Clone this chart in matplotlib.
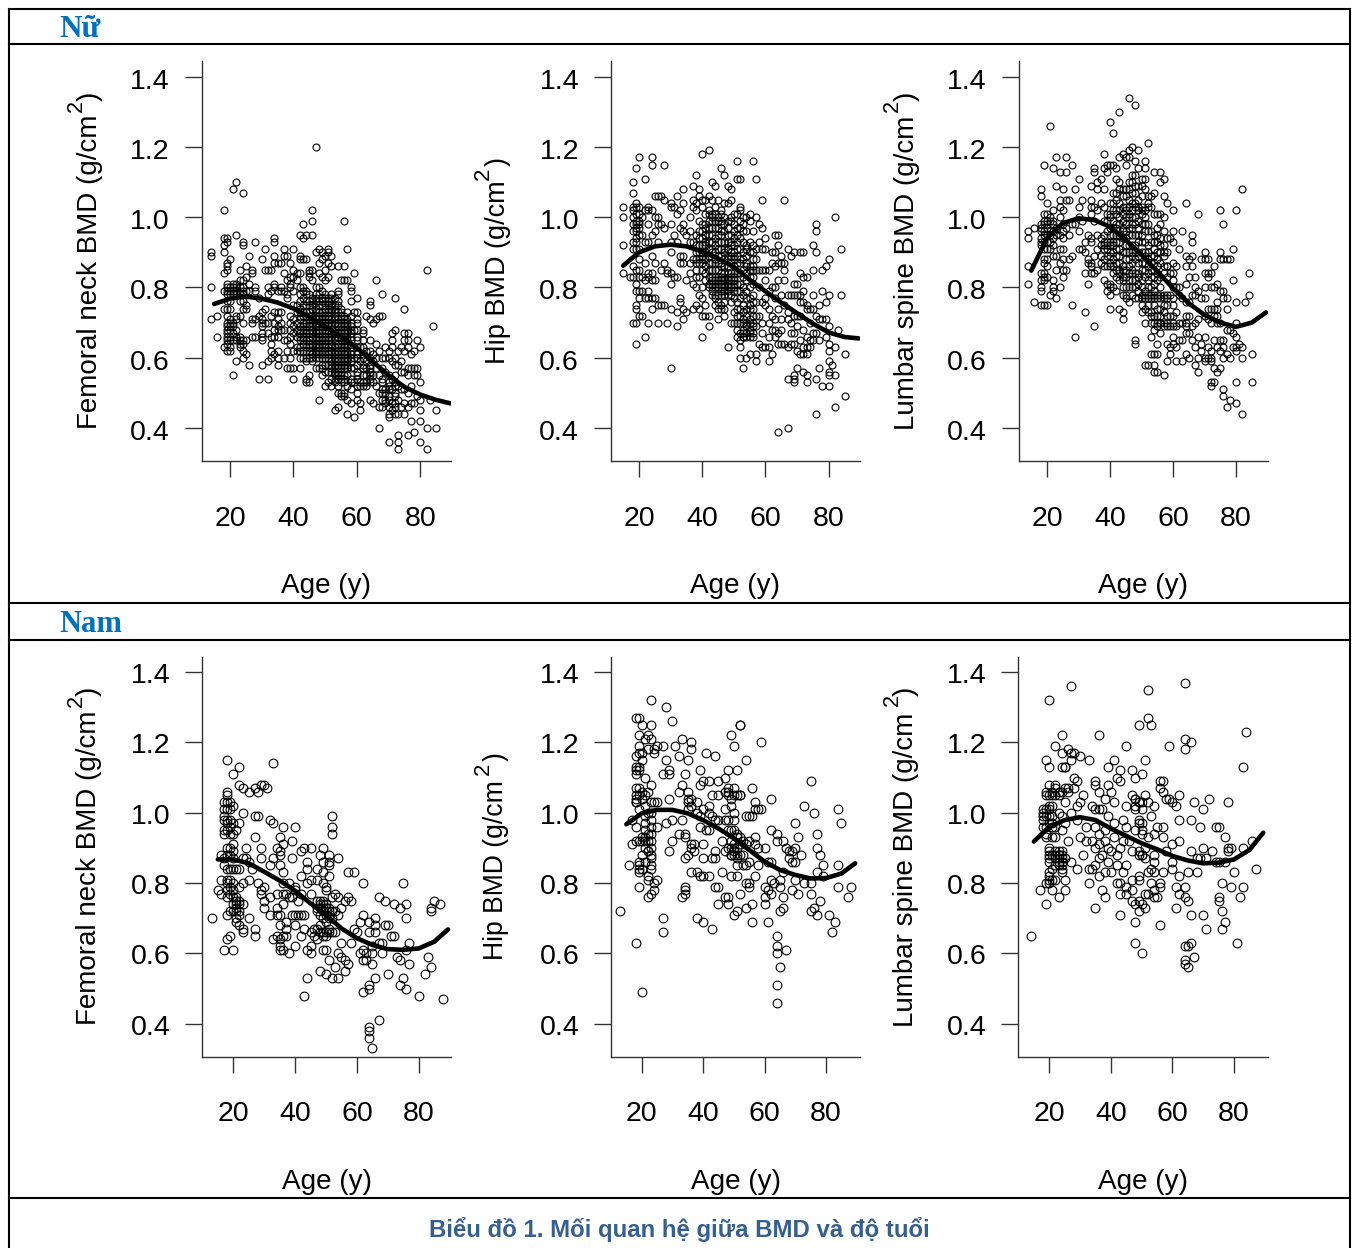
import numpy as np
import matplotlib
matplotlib.use('Agg')
import matplotlib.pyplot as plt
from matplotlib.lines import Line2D
from matplotlib.transforms import ScaledTranslation

plt.rcParams['font.family'] = ['Liberation Sans', 'DejaVu Sans']

W, H = 1354, 1248

# smooth curve, read every 5 years
curve_age = [15, 20, 25, 30, 35, 40, 45, 50, 55, 60, 65, 70, 75, 80, 85, 89.5]
nu_neck_curve = [.753, .768, .774, .768, .757, .74, .716, .688, .66, .628, .589, .55, .517, .495, .48, .47]
nu_hip_curve = [.862, .90, .917, .922, .917, .902, .883, .858, .822, .789, .757, .727, .697, .672, .659, .655]
nu_spine_curve = [.848, .94, .983, .997, .992, .973, .935, .893, .846, .798, .755, .722, .70, .688, .70, .729]
nam_neck_curve = [.867, .867, .856, .832, .807, .778, .742, .709, .671, .643, .624, .612, .61, .614, .633, .668]
nam_hip_curve = [.967, .998, 1.008, 1.008, .998, .979, .955, .927, .894, .861, .837, .823, .813, .814, .827, .856]
nam_spine_curve = [.918, .96, .979, .987, .979, .955, .934, .913, .896, .877, .864, .856, .858, .867, .894, .943]

# scatter values, one list per age
nu_neck_age = [14, 16, 18, 19, 20, 21, 22, 23, 24, 25, 26, 27, 28, 29, 30, 31, 32, 33, 34, 35, 36, 37, 38, 39, 40,
               41, 42, 43, 44, 45, 46, 47, 48, 49, 50, 51, 52, 53, 54, 55, 56, 57, 58, 59, 60, 61, 62, 63, 64, 65,
               66, 67, 68, 69, 70, 71, 72, 73, 74, 75, 76, 77, 78, 79, 80, 82, 83, 84, 85]
nu_neck_bmd = [
    [.90, .89, .80, .71], [.72, .66], [1.02, .94, .92, .90, .84, .79, .74, .63],
    [.94, .93, .87, .86, .85, .81, .80, .79, .78, .74, .70, .69, .68, .67, .66, .64, .62],
    [.88, .80, .79, .78, .74, .71, .70, .69, .68, .63, .62], [1.08, .80, .79, .78, .67, .55],
    [1.10, .95, .80, .79, .72, .71, .68, .65, .59], [.85, .82, .80, .78, .72, .64, .63],
    [1.07, .93, .92, .82, .80, .78, .70, .65, .64, .60], [.86, .83, .79, .75, .74, .65, .61],
    [.89, .81, .79, .58], [.85, .84, .71, .70, .66], [.93, .80, .79, .71, .66], [.77, .72, .54],
    [.88, .73, .71, .70, .69, .67, .66, .65, .58], [.91, .85, .74, .70], [.85, .80, .78, .70, .67, .59, .54],
    [.85, .79, .72, .66, .64, .62, .60], [.94, .93, .89, .87, .81, .80, .73, .70, .68, .66, .61],
    [.87, .79, .73, .71, .69, .68, .66, .62, .60, .58], [.87, .80, .79, .73, .70, .68],
    [.91, .89, .84, .79, .68, .65, .60], [.89, .82, .78, .77, .65, .62, .57],
    [.87, .83, .81, .80, .72, .70, .68, .66, .64, .60, .57], [.91, .85, .83, .79, .75, .71, .69, .67, .62, .57, .54],
    [.84, .82, .75, .73, .70, .68, .66, .63, .62], [.95, .89, .88, .84, .80, .78, .74, .71, .69, .67, .65, .63, .57],
    [.98, .94, .88, .80, .79, .75, .70, .68, .66, .64, .60], [.95, .88, .79, .76, .72, .69, .67, .62, .59, .54, .53],
    [.85, .84, .83, .78, .76, .73, .70, .67, .65, .62, .55, .53],
    [1.02, .99, .95, .85, .82, .77, .74, .71, .68, .66, .63, .61, .59],
    [1.20, .90, .80, .77, .74, .71, .69, .66, .64, .62, .60, .57],
    [.91, .87, .84, .80, .76, .73, .70, .68, .65, .63, .60, .57, .48],
    [.90, .88, .83, .79, .77, .72, .70, .66, .64, .61, .57, .55],
    [.89, .85, .82, .78, .75, .72, .70, .68, .65, .62, .60, .52],
    [.91, .90, .87, .83, .77, .75, .72, .69, .66, .63, .60, .56, .53],
    [.89, .86, .78, .76, .74, .71, .67, .65, .62, .58, .56, .52],
    [.77, .75, .72, .70, .66, .63, .60, .57, .55, .45],
    [.86, .79, .78, .76, .71, .68, .64, .62, .59, .56, .54, .52, .46],
    [.82, .74, .72, .70, .68, .65, .62, .60, .57, .54, .50, .49],
    [.99, .86, .82, .70, .69, .66, .63, .61, .58, .55, .50, .49],
    [.91, .82, .73, .71, .68, .65, .63, .60, .57, .52, .48, .44],
    [.80, .79, .76, .70, .68, .66, .62, .60, .54, .53, .47], [.84, .73, .68, .60, .57, .53, .43],
    [.77, .73, .71, .68, .63, .60, .56, .52, .50, .48], [.63, .59, .53, .52, .47, .45],
    [.68, .67, .65, .61, .55, .53], [.72, .62, .59, .57, .55, .53, .52], [.76, .75, .71, .65, .62, .58, .56, .54, .48],
    [.70, .61, .59, .55, .53, .47], [.82, .71, .64, .60, .57, .52], [.72, .62, .55, .50, .46, .40],
    [.78, .72, .60, .57, .54, .48, .46], [.63, .60, .56, .51, .50, .48, .47],
    [.62, .60, .55, .51, .49, .46, .44, .43, .36], [.67, .65, .63, .59, .54, .51, .47, .45],
    [.77, .68, .60, .58, .53, .50, .47, .44], [.62, .58, .52, .48, .44, .38, .36, .34], [.63, .59, .56, .51, .46],
    [.74, .67, .65, .62, .56, .51, .47, .44], [.67, .65, .63, .57, .55, .50, .46, .38], [.61, .57, .52, .47, .42],
    [.62, .57, .55, .47, .39], [.65, .57, .55, .49], [.63, .53, .48, .45, .42, .36], [.85, .40, .34], [.48], [.69],
    [.45, .40]]
# the crowded part of the cloud
nu_neck_more_age = [19, 20, 21, 22, 23, 24, 42, 43, 44, 45, 46, 47, 48, 49, 50, 51, 52, 53, 54, 55, 56, 57, 58, 60, 62,
                    64, 68, 70, 72]
nu_neck_more = [
    [.76, .72, .65], [.76, .66, .65], [.81, .70, .69, .65], [.81, .78, .66], [.79, .76, .66, .65], [.79, .76, .74, .62],
    [.76, .73, .72, .68, .66, .62, .60], [.77, .73, .72, .69, .67, .65, .62], [.78, .75, .73, .70, .68, .65, .63, .60],
    [.75, .72, .71, .69, .66, .64, .63, .60], [.76, .75, .72, .70, .69, .67, .64, .62, .60],
    [.78, .76, .73, .72, .70, .68, .67, .65, .63, .61], [.78, .75, .72, .71, .69, .67, .66, .64, .62, .61],
    [.76, .75, .73, .71, .69, .68, .65, .63, .62, .60, .58], [.77, .74, .73, .71, .69, .67, .66, .64, .63, .61, .58, .56],
    [.76, .74, .73, .71, .70, .68, .67, .65, .62, .61, .58], [.77, .75, .73, .70, .69, .66, .64, .63, .60, .59, .57, .54],
    [.74, .73, .71, .68, .67, .65, .62, .61, .59, .58, .56, .54, .53],
    [.75, .73, .70, .69, .67, .66, .63, .61, .60, .58, .57, .55, .50],
    [.73, .71, .69, .67, .66, .64, .63, .61, .59, .58, .56, .55, .53],
    [.72, .71, .68, .67, .65, .64, .62, .60, .59, .57, .54, .53], [.70, .69, .67, .66, .64, .62, .61, .59, .58, .55],
    [.72, .69, .67, .65, .63, .61, .59, .57, .51], [.70, .66, .65, .62, .61, .58, .55, .54], [.63, .60, .58, .57, .52],
    [.60, .57, .55, .53], [.53, .51, .50], [.53, .52, .48], [.55, .52, .49, .46]]

nu_hip_age = [15, 17, 18, 19, 20, 21, 22, 23, 24, 25, 26, 27, 28, 29, 30, 31, 32, 33, 34, 35, 36, 37, 38, 39, 40,
              41, 42, 43, 44, 45, 46, 47, 48, 49, 50, 51, 52, 53, 54, 55, 56, 57, 58, 59, 60, 61, 62, 63, 64, 65,
              66, 67, 68, 69, 70, 71, 72, 73, 74, 75, 76, 77, 78, 79, 80, 81, 82, 83, 84, 85]
nu_hip_bmd = [
    [1.03, 1.00, .92, .84], [.83], [1.10, 1.07, 1.03, 1.02, 1.00, .98, .91, .86, .83, .70],
    [1.14, 1.04, 1.03, 1.01, .98, .96, .94, .91, .85, .81, .79, .75, .74, .70, .64],
    [1.17, 1.03, 1.01, .98, .95, .91, .88, .83, .79, .77, .72], [1.00, .95, .83, .79, .72],
    [1.11, 1.02, .93, .87, .82, .77, .66], [1.03, 1.02, .98, .93, .84, .83, .79, .77, .70],
    [1.17, 1.15, 1.02, .95, .89, .84, .82, .77, .74], [1.06, 1.00, .96, .87, .82, .77],
    [1.06, 1.00, .98, .93, .75, .70], [1.06, .98, .85, .75], [1.15, 1.05, .97, .87, .75], [.85, .84, .70],
    [1.04, 1.03, .98, .93, .90, .84, .81, .74, .57], [1.03, .95, .83], [1.06, 1.01, .93, .83, .73, .69],
    [1.02, .97, .89, .87, .77, .76], [1.08, 1.04, .98, .96, .89, .87, .74, .71], [.95, .82, .73],
    [1.00, .96, .93, .87, .84], [1.09, 1.05, 1.03, .93, .88, .81, .74], [1.12, 1.04, 1.02, .90, .87, .85, .83, .80, .75],
    [1.08, 1.06, .99, .96, .90, .87, .83, .78, .74], [1.18, 1.05, 1.03, .98, .92, .90, .87, .85, .77, .72, .66],
    [1.05, .95, .93, .90, .86, .75, .72], [1.19, 1.06, 1.01, .97, .93, .89, .85, .80, .72, .69],
    [1.10, 1.05, 1.01, .99, .95, .91, .87, .82, .81, .79], [1.09, 1.03, .99, .94, .90, .87, .82, .80, .77, .75],
    [1.05, 1.00, .97, .91, .89, .82, .80, .76, .71], [1.14, 1.02, 1.01, .98, .95, .93, .89, .86, .82, .79, .75, .74],
    [1.12, 1.04, .98, .96, .91, .88, .83, .81, .78, .76, .72], [1.09, 1.04, .97, .91, .89, .83, .81, .79, .63],
    [1.08, 1.05, 1.00, .95, .92, .89, .83, .80, .78, .70], [1.01, .98, .94, .90, .88, .83, .81, .79, .73],
    [1.16, 1.11, 1.01, .95, .93, .89, .79, .74, .68, .66], [1.11, 1.03, 1.02, .99, .94, .88, .79, .74, .72, .65, .63, .60],
    [1.00, .98, .96, .90, .85, .80, .75, .71, .68, .66, .57], [1.00, .96, .92, .87, .84, .79, .72, .69, .66, .60],
    [1.01, .99, .93, .85, .80, .77, .71, .68, .66, .61], [1.16, .96, .92, .86, .83, .78, .72, .69, .66],
    [1.11, 1.00, .91, .88, .85, .76, .72, .69, .61, .59], [.98, .93, .85, .80, .72, .64],
    [1.05, .97, .91, .85, .76, .70, .67, .63], [.94, .91, .85, .82, .77, .75, .63], [.85, .79, .74, .70, .66, .63, .59],
    [.90, .87, .80, .72, .68, .61], [.95, .90, .86, .80, .77, .71, .68, .66], [.95, .92, .87, .82, .74, .67, .64, .39],
    [.89, .87, .78, .71, .68, .64], [1.05, .87, .85, .82, .75, .64], [.91, .78, .73, .71, .63, .54, .40],
    [.89, .78, .70, .67, .64], [.90, .81, .78, .72, .67, .64, .55, .54, .53], [.81, .78, .72, .69, .62, .57],
    [.90, .84, .78, .76, .72, .65, .61], [.90, .83, .79, .76, .68, .63, .61, .56], [.83, .75, .74, .66, .63, .61, .55, .53],
    [.74, .70, .65, .63], [.92, .85, .78, .74, .67, .65], [.98, .96, .90, .72, .67, .54, .44], [.75, .71, .65, .57],
    [.85, .79, .71, .52], [.86, .76, .71, .66], [.88, .78, .69, .64, .62, .59, .56, .55, .52], [.58],
    [1.00, .63, .55, .46], [.68], [.91, .78], [.61, .49]]
nu_hip_more_age = [18, 19, 20, 38, 39, 40, 41, 42, 43, 44, 45, 46, 47, 48, 49, 50, 51, 52, 53, 54, 55, 56]
nu_hip_more = [
    [.96, .93], [.99, .97, .93], [.99, .97, .85], [.95, .92, .88], [.94, .92, .88], [.96, .94, .89, .88, .80],
    [1.01, .98, .97, .92, .88, .84, .82], [1.02, .99, .95, .91, .87, .83, .81], [1.00, .97, .93, .90, .85, .83, .80, .78],
    [1.01, .97, .92, .88, .85, .83, .81, .78], [.99, .95, .93, .87, .85, .83, .81, .78, .74],
    [.99, .96, .91, .87, .84, .83, .81, .80, .78], [1.00, .93, .90, .86, .84, .82, .80, .79, .74],
    [.99, .95, .93, .88, .86, .84, .82, .80, .78], [.99, .93, .90, .87, .84, .82, .81, .76],
    [.96, .92, .89, .86, .84, .82, .80, .77, .70], [.97, .91, .87, .84, .81, .76, .72, .70],
    [.97, .91, .87, .84, .81, .77, .70, .67], [.93, .88, .83, .78, .73, .70, .67, .66],
    [.91, .89, .86, .82, .77, .74, .70, .67], [.90, .86, .83, .75, .74, .70, .67], [.90, .88, .85, .81, .76, .74, .70, .67]]

nu_spine_age = [14, 16, 18, 19, 20, 21, 22, 23, 24, 25, 26, 27, 28, 29, 30, 31, 32, 33, 34, 35, 36, 37, 38, 39, 40,
                41, 42, 43, 44, 45, 46, 47, 48, 49, 50, 51, 52, 53, 54, 55, 56, 57, 58, 59, 60, 61, 62, 63, 64, 65,
                66, 67, 68, 69, 70, 71, 72, 73, 74, 75, 76, 77, 78, 79, 80, 81, 82, 83, 84, 85]
nu_spine_bmd = [
    [.96, .94, .86, .81], [.97, .76], [1.08, 1.06, .98, .97, .94, .92, .84, .82, .80, .79, .75],
    [1.15, 1.01, .98, .96, .93, .88, .87, .83, .82, .75], [1.04, 1.01, .98, .95, .91, .86, .83, .75],
    [1.26, 1.00, .96, .93, .78], [1.14, 1.02, .99, .96, .92, .82, .80, .79], [1.17, 1.09, .97, .95, .89, .85, .77],
    [1.13, 1.05, 1.03, 1.00, .95, .91, .87, .80], [1.08, 1.02, .98, .96, .94, .91, .88, .85, .83],
    [1.17, 1.13, 1.05, .97, .85], [1.05, .95, .88], [1.15, .98, .89, .75], [1.08, .98, .66], [1.11, 1.03, 1.00, .96, .91],
    [1.05, .99, .91], [.93, .90, .84, .73], [.95, .88, .87, .81], [1.09, 1.05, 1.03, 1.01, .94, .93, .87, .86, .84],
    [1.14, 1.13, 1.03, .99, .89, .84, .69], [1.10, 1.08, 1.02, .95, .91, .85], [1.11, 1.04, .94, .92, .89, .87],
    [1.18, 1.14, 1.08, 1.03, .99, .93, .91, .88, .82], [1.15, 1.13, 1.01, .99, .93, .91, .86, .81, .79],
    [1.27, 1.15, 1.04, 1.00, .93, .90, .87, .81, .80, .78, .74], [1.24, 1.15, 1.07, 1.02, .97, .93, .90, .86, .80],
    [1.14, 1.11, 1.07, 1.01, .98, .93, .89, .85, .79], [1.30, 1.17, 1.10, 1.00, .95, .91, .87, .84, .74],
    [1.18, 1.08, 1.03, .99, .96, .86, .83, .80, .73, .71], [1.17, 1.15, 1.08, 1.02, .98, .94, .90, .85, .80, .77],
    [1.34, 1.19, 1.17, 1.08, 1.05, 1.01, .97, .92, .88, .82, .76], [1.20, 1.10, 1.04, 1.00, .97, .90, .87, .84, .80],
    [1.32, 1.16, 1.12, 1.07, 1.03, .95, .90, .82, .77, .65, .64], [1.19, 1.14, 1.05, 1.03, .99, .95, .89, .84, .81, .77],
    [1.11, 1.09, 1.03, 1.01, .95, .87, .80, .77, .73], [1.16, 1.14, 1.11, 1.02, 1.00, .96, .90, .85, .79, .77, .70, .58],
    [1.21, 1.06, 1.03, .96, .90, .86, .82, .78, .73, .58], [1.06, 1.03, .96, .89, .85, .78, .73, .66, .61],
    [1.13, 1.07, 1.01, .95, .93, .89, .85, .81, .78, .72, .68, .61, .58, .56],
    [1.01, .97, .93, .88, .84, .78, .72, .69, .64, .61, .56], [1.13, 1.10, 1.01, .98, .94, .90, .83, .78, .74, .70, .67],
    [1.11, 1.06, 1.00, .96, .92, .89, .84, .78, .73, .69, .55], [1.04, .94, .90, .86, .78, .70, .64, .59],
    [.94, .84, .78, .72, .69, .63, .61], [1.02, .96, .93, .87, .84, .77, .75, .69, .66, .64], [.86, .80, .73, .69, .63, .59],
    [.91, .80, .78, .70, .65], [.96, .77, .70, .65, .59], [1.04, .89, .86, .81, .76, .70, .61], [.88, .83, .76, .72, .67, .60],
    [.95, .93, .89, .86, .78, .69, .65], [.83, .80, .78, .70, .63, .58], [1.01, .79, .71, .66, .60, .56], [.88, .77, .64, .62],
    [.90, .88, .84, .80, .77, .72, .66, .60, .59], [.88, .84, .83, .74, .71, .63, .60], [.84, .80, .70, .59, .53, .52],
    [.86, .80, .74, .72, .65, .57, .53], [.81, .72, .63, .56], [1.02, .90, .88, .79, .70, .65, .62, .57],
    [.98, .88, .79, .77, .65, .63, .60, .51, .49], [.88, .77, .74, .68, .61, .46], [.88, .68, .60, .48], [.91, .82, .67, .63],
    [1.02, .76, .70, .66, .63, .62, .53, .47], [.64], [1.08, .63, .60, .44], [.76], [.84, .78], [.61, .53]]
nu_spine_more_age = [18, 19, 20, 21, 22, 38, 39, 40, 41, 42, 43, 44, 45, 46, 47, 48, 49, 50, 51, 52, 53, 54, 55, 56, 57,
                     58, 60, 64, 72, 74]
nu_spine_more = [
    [.96, .93], [.99, .95, .91, .84], [.99, .97, .93, .88], [.99, .95, .91], [.98, .94, .89], [.95, .92, .86],
    [.96, .92, .89], [1.01, .97, .95, .92, .89, .86], [1.04, .99, .95, .92, .88, .84], [1.05, 1.02, .97, .95, .91, .87, .83],
    [1.08, 1.04, 1.02, .98, .93, .89, .85, .82], [1.06, 1.01, .97, .94, .90, .85, .82, .78],
    [1.06, 1.03, 1.00, .96, .92, .88, .83, .78], [1.10, 1.03, 1.00, .95, .90, .86, .84, .80],
    [1.12, 1.07, 1.02, .98, .95, .92, .89, .85, .82, .78], [1.09, 1.04, 1.00, .98, .92, .88, .84, .80],
    [1.09, 1.02, .97, .93, .90, .87, .83, .79], [1.06, 1.02, .98, .93, .90, .85, .82, .78, .75],
    [1.08, .98, .93, .89, .87, .83, .78, .74], [1.04, .98, .92, .88, .84, .80, .77, .75], [.93, .87, .83, .80, .77, .72, .70],
    [.91, .87, .83, .79, .77, .75, .70], [.95, .90, .86, .82, .77, .74, .70], [.92, .87, .80, .77, .72, .70],
    [.90, .86, .77, .75, .70], [.86, .83, .77, .75, .72, .69], [.82, .80, .72, .70], [.72, .69, .67], [.74, .62, .60],
    [.76, .74, .70]]

nam_neck_age = [13, 15, 16, 17, 18, 19, 20, 21, 22, 23, 24, 25, 26, 27, 28, 29, 30, 31, 32, 33, 34, 35, 36, 37, 38, 39,
                40, 41, 42, 43, 44, 45, 46, 47, 48, 49, 50, 51, 52, 53, 54, 55, 56, 57, 58, 59, 60, 61, 62, 63, 64, 65,
                66, 67, 68, 69, 70, 71, 72, 73, 74, 75, 76, 77, 80, 82, 83, 84, 85, 87, 88]
nam_neck_bmd = [
    [.70], [.78], [.88, .81, .77], [1.03, 1.01, .99, .98, .95, .94, .87, .85, .61],
    [1.15, 1.06, 1.05, 1.03, 1.01, .98, .97, .95, .90, .81, .80, .78, .76, .71, .64],
    [1.03, .96, .94, .90, .88, .84, .79, .72, .65], [1.11, 1.02, .97, .94, .91, .89, .84, .80, .78, .74, .72, .61],
    [.95, .84, .76, .75, .72, .69], [1.13, 1.08, .97, .84, .79, .75, .74, .68], [1.07, 1.00, .87, .80, .74, .67, .66],
    [.90, .87], [1.06, .86, .81, .70], [.84], [1.07, .99, .93, .67, .65], [1.06, .99, .80], [1.08, .90, .87, .78, .77],
    [1.08, .79, .75, .73], [1.07], [.98, .85, .76, .71], [1.14, .97, .87, .64], [.90, .77, .73, .71, .65],
    [.93, .89, .88, .85, .71, .68, .64, .62, .61], [.96, .91, .83, .80, .77, .74, .65, .61], [.77, .69, .67, .65],
    [.80, .76, .60], [.92, .87, .76, .71], [.96, .79, .78, .71, .68, .62], [.75, .71], [.89, .82, .77, .71, .65],
    [.90, .71, .67, .48], [.86, .84, .80, .61, .53], [.90, .81, .77, .66, .62, .60], [.67, .65], [.84, .81, .72, .67, .64],
    [.88, .73, .71, .68, .55], [.90, .86, .83, .80, .74, .65, .61], [.79, .78, .74, .71, .65, .61, .54],
    [.88, .86, .85, .82, .73, .67, .58], [.99, .96, .94, .72, .53], [.77, .72, .66, .56], [.87, .76, .71, .60, .53],
    [.73, .63, .59], [.75, .58, .55], [.83, .76, .57], [.75, .63], [.83, .67], [.66], [.69, .60], [.80, .71, .61, .58, .49],
    [.60, .58], [.69, .66, .51, .50, .39, .38, .36], [.62, .60, .57, .33], [.70, .68, .66, .53], [.76, .63, .41], [.63, .60],
    [.75, .68], [.68, .54], [.65], [.74, .65], [.59], [.73, .58, .51], [.80, .53], [.74, .70, .61, .50], [.63, .57], [.48],
    [.54], [.59], [.73, .72, .56], [.75], [.74], [.47]]
nam_neck_more_age = [18, 19, 20, 21, 22, 47, 48, 49, 50, 51, 52]
nam_neck_more = [[.88, .84], [1.01, .98, .81, .77], [.87, .76], [.74, .73, .70], [.72, .71], [.75, .73], [.75, .74, .66],
                 [.75, .72, .70, .66], [.73, .69, .66], [.72, .70, .66], [.76, .70, .66]]

nam_hip_age = [13, 16, 17, 18, 19, 20, 21, 22, 23, 24, 25, 27, 28, 29, 30, 31, 32, 33, 34, 35, 36, 37, 38, 39, 40, 41,
               42, 43, 44, 45, 46, 47, 48, 49, 50, 51, 52, 53, 54, 55, 56, 57, 58, 59, 60, 61, 62, 63, 64, 65, 66, 67,
               68, 69, 70, 71, 72, 73, 75, 76, 77, 78, 79, 81, 82, 83, 84, 85, 87, 88]
nam_hip_bmd = [
    [.72], [.85], [.98, .91], [1.27, 1.16, 1.12, 1.11, 1.07, 1.05, 1.04, 1.03, .96, .92, .63],
    [1.27, 1.22, 1.19, 1.17, 1.13, 1.07, 1.05, 1.01, .92, .86, .83, .79], [1.25, 1.17, 1.15, 1.04, .93, .88, .84, .49],
    [1.21, 1.10, 1.05, 1.02, .99, .97, .93, .86], [1.22, 1.18, 1.06, 1.00, .94, .89, .82, .81, .76],
    [1.32, 1.25, 1.21, 1.08, 1.03, .98, .96, .92, .88, .87, .85, .84, .77], [1.18, 1.17, 1.03, .80, .78],
    [1.19, 1.03, .96, .81], [1.19, 1.11, .70, .66], [1.30, 1.15, .97], [1.12, 1.11, 1.04, .89], [1.26, .98, .92], [1.19],
    [1.16, 1.06, .94], [1.21, 1.08, .98, .76], [1.11, .94, .93, .87, .79, .78, .77], [1.15, 1.06, 1.04, 1.03, 1.01, .88],
    [1.20, 1.18, 1.04, 1.02, .91, .90, .83], [.91, .89], [1.03, 1.00, .83, .70], [1.12, 1.08, .99, .96, .82],
    [1.09, 1.01, .91, .87, .82, .69], [1.17, .95], [1.09, 1.02, 1.00, .95, .82], [1.05, .99, .87, .67],
    [1.16, .98, .89, .87, .79], [1.09, 1.05, .98, .79, .74], [.92, .83], [1.10, 1.06, 1.01, .98, .89, .76],
    [1.12, 1.07, 1.05, .98, .90, .76, .74], [1.22, 1.04, 1.02, .95, .88, .82], [1.19, 1.07, 1.00, .98, .91, .89, .71],
    [1.12, 1.05, .94, .88, .85, .82, .72], [1.25, 1.25, 1.05, .93, .91, .77], [.92, .88, .85], [1.15, .99, .91, .85, .80, .73],
    [.99, .92, .86, .80, .79], [1.07, .99, .74, .69], [1.03, 1.01, .93, .91, .82], [1.01, .90, .85], [1.20, 1.01],
    [.90, .79, .76, .74], [.86, .78, .69], [1.04, .95, .86, .81, .77], [.80], [.94, .92, .65, .62, .60, .51, .46],
    [.81, .79, .72, .56], [.92, .83, .76, .73], [.90, .61], [.89, .87], [.89, .86, .78], [.97, .90, .86, .81], [.93, .77],
    [.88], [1.02, .80], [1.09, .80, .77, .72], [1.00, .73], [.94, .90, .83, .71], [.88, .75], [.85, .82], [.71], [.66], [.69],
    [1.01, .85, .79], [.97], [.76], [.79]]
nam_hip_more_age = [18, 19, 20, 21, 22, 23, 48, 49, 50, 51, 52]
nam_hip_more = [[1.13, 1.03], [1.12, .85, .84], [1.06, .92], [.95, .92, .90], [.92, .89], [1.00, .94, .90], [1.06, .95],
                [.92, .90, .88], [1.05, .95, .90, .88], [.93, .90, .87], [1.05, .88]]

nam_spine_age = [14, 17, 18, 19, 20, 21, 22, 23, 24, 25, 26, 27, 28, 29, 30, 31, 32, 33, 34, 35, 36, 37, 38, 39, 40, 41,
                 42, 43, 44, 45, 46, 47, 48, 49, 50, 51, 52, 53, 54, 55, 56, 57, 58, 59, 60, 61, 62, 64, 65, 66, 67, 68,
                 69, 70, 71, 72, 73, 74, 75, 76, 77, 78, 79, 80, 81, 82, 83, 84, 86, 87]
nam_spine_bmd = [
    [.65], [.78], [1.00, .99, .96], [1.15, 1.06, 1.01, .99, .96, .93, .80, .74],
    [1.32, 1.13, 1.08, 1.05, 1.01, .99, .90, .89, .88, .86, .82, .81, .80], [1.06, 1.02, .99, .93, .84, .81, .78],
    [1.19, 1.08, 1.07, 1.05, .96, .93, .88, .81], [1.06, 1.00, .89, .88, .87, .85, .76],
    [1.22, 1.17, 1.13, 1.06, .99, .95, .89, .86, .84], [1.13, 1.13, 1.07, 1.03, .97, .87, .81, .78], [1.18, 1.07, 1.06, .92],
    [1.36, 1.17, 1.15, 1.00, .86], [1.17, 1.10, 1.07], [1.09, 1.02, .98, .84], [1.16, 1.03, .93], [1.05, .88], [.96, .92],
    [1.15, .84, .80], [1.02, .92, .84], [1.09, 1.08, 1.01, .96, .90, .85, .73], [1.22, 1.06, 1.01, .94, .91, .87, .82],
    [1.01, .88, .78], [1.04, .95, .92, .83, .76], [1.13, 1.08, .99, .90, .86], [1.06, .89, .83], [1.15, 1.03, .97, .93],
    [1.10, .88, .85, .80], [1.12, 1.09, .90, .80, .77, .71], [.98, .92, .83], [1.19, 1.02, .96, .85, .79, .77], [.92],
    [1.12, 1.05, .89, .81, .78, .75], [1.10, 1.04, 1.01, .95, .74, .69, .63], [1.25, 1.03, .98, .88, .82, .81, .75, .72],
    [1.11, 1.01, .97, .94, .88, .74, .60], [1.15, 1.05, .90, .87, .77, .73], [1.35, 1.27, 1.03, .93, .83, .77],
    [1.25, .99, .84, .80], [1.02, .94, .88, .86, .83, .78, .76], [.96, .76], [1.09, 1.07, .80, .79, .68],
    [1.09, 1.06, .96, .93, .83], [1.04, .89], [1.19, 1.04], [1.03, .91, .86, .84], [1.02, .79, .73], [1.05, .98, .92, .82, .77],
    [1.37, 1.21, 1.18, .79, .76, .62, .58, .57], [.83, .75, .62, .56], [1.20, .98, .89, .71, .63], [1.03, .59], [.87, .83],
    [.96, .87], [1.01, .90, .71], [.87, .67], [1.04], [.89], [.96, .86], [.96, .86, .76, .75], [.80, .72, .67], [.93, .86, .69],
    [1.03, .90, .89], [.90, .79], [.83], [.63], [.76], [1.13, .90, .79], [1.23], [.92], [.84]]
nam_spine_more_age = [18, 19, 20, 21, 22, 23, 24, 48, 49, 50]
nam_spine_more = [[1.01, .98], [1.05, .94], [1.02, .97, .87, .83], [1.05, .97, .96, .88], [.89, .87, .85], [1.05, .88, .86],
                  [.88, .87, .85, .83], [1.04, 1.02], [1.03, .97, .89], [1.03, .95, .88]]

xticks = [20, 40, 60, 80]
yticks = [0.4, 0.6, 0.8, 1.0, 1.2, 1.4]


def fx(px):
    return px / W


def fy(py):
    return 1 - py / H


def label_piece(x, y, s, size):
    fig.text(fx(x), fy(y), s, rotation=90, rotation_mode='anchor', ha='left', va='baseline',
             fontsize=size, color='k')


def panel(box, age, bmd, curve, ms, ylab_shift):
    # box: left, right, px of age 20, px of age 80, px of bmd 1.4, px of bmd 0.4, top, bottom
    left, right, p20, p80, p14, p04, top, bottom = box
    ax = fig.add_axes([fx(left), fy(bottom), fx(right - left), (bottom - top) / H])
    ppx = (p80 - p20) / 60.0
    ppy = (p04 - p14) / 1.0
    ax.set_xlim(20 - (p20 - left) / ppx, 20 + (right - p20) / ppx)
    ax.set_ylim(0.4 - (bottom - p04) / ppy, 0.4 + (p04 - top) / ppy)
    xs = np.concatenate([[a] * len(v) for a, v in zip(age, bmd)])
    ys = np.concatenate(bmd)
    ax.plot(xs, ys, 'o', mfc='none', mec='k', ms=ms, mew=0.8, clip_on=False)
    ax.plot(curve_age, curve, color='k', lw=3.3, solid_capstyle='round', solid_joinstyle='round')
    for s in ['top', 'right']:
        ax.spines[s].set_visible(False)
    for s in ['left', 'bottom']:
        ax.spines[s].set_color('#333333')
        ax.spines[s].set_linewidth(1.0)
    ax.set_xticks(xticks)
    ax.set_yticks(yticks)
    ax.set_yticklabels(['%.1f' % t for t in yticks])
    ax.tick_params(axis='x', length=11.5, width=1.0, color='#333333', labelsize=20.5, pad=20.5, labelcolor='k')
    ax.tick_params(axis='y', length=12, width=1.0, color='#333333', labelsize=20.5, pad=11, labelcolor='k')
    for t in ax.get_yticklabels():
        t.set_transform(t.get_transform() + ScaledTranslation(0, -ylab_shift / 100.0, fig.dpi_scale_trans))
    fig.text(fx((left + right) / 2), fy(bottom + 125), 'Age (y)', ha='center', va='center', fontsize=20.1, color='k')
    return ax


fig = plt.figure(figsize=(W / 100, H / 100), dpi=100)

panel((201.7, 451, 230, 420.3, 76.6, 428, 61.5, 461.4), nu_neck_age + nu_neck_more_age, nu_neck_bmd + nu_neck_more, nu_neck_curve, 5.0, 2)
panel((611, 860, 639, 828.7, 76.7, 428, 61.5, 461.4), nu_hip_age + nu_hip_more_age, nu_hip_bmd + nu_hip_more, nu_hip_curve, 5.0, 2)
panel((1018.7, 1268, 1047, 1236, 76.7, 428, 61.5, 461.4), nu_spine_age + nu_spine_more_age, nu_spine_bmd + nu_spine_more, nu_spine_curve, 5.0, 2)
panel((202.3, 450.7, 233.3, 418.7, 672, 1023.7, 656.7, 1056.7), nam_neck_age + nam_neck_more_age, nam_neck_bmd + nam_neck_more, nam_neck_curve, 6.3, 1)
panel((611.3, 860, 641.7, 826, 672, 1023.7, 656.7, 1056.7), nam_hip_age + nam_hip_more_age, nam_hip_bmd + nam_hip_more, nam_hip_curve, 6.3, 1)
panel((1018.3, 1268, 1049.3, 1234, 672, 1023.7, 656.7, 1056.7), nam_spine_age + nam_spine_more_age, nam_spine_bmd + nam_spine_more, nam_spine_curve, 6.3, 1)

# y labels, the exponent is set apart like in R
label_piece(97, 429, 'Femoral neck BMD (g/cm', 20)
label_piece(82, 112, '2', 15.5)
label_piece(97, 101, ')', 20)
label_piece(505, 364, 'Hip BMD (g/cm', 19.5)
label_piece(489, 179.5, '2', 16)
label_piece(505, 166, ')', 19.5)
label_piece(914, 430, 'Lumbar spine BMD (g/cm', 20)
label_piece(898, 112, '2', 15.5)
label_piece(914, 101, ')', 20)
label_piece(96, 1025, 'Femoral neck BMD (g/cm', 20)
label_piece(82, 707, '2', 15.5)
label_piece(96, 696, ')', 20)
label_piece(503, 960, 'Hip BMD (g/cm', 19.2)
label_piece(489, 775, '2', 16)
label_piece(503, 761, ')', 19.2)
label_piece(913, 1027, 'Lumbar spine BMD (g/cm', 20)
label_piece(898, 706, '2', 15.5)
label_piece(913, 696, ')', 20)

# table frame
for y in [8.5, 44, 603, 640, 1198]:
    fig.add_artist(Line2D([fx(8.5), fx(1350)], [fy(y), fy(y)], color='k', lw=1.5))
for x in [8.5, 1350]:
    fig.add_artist(Line2D([fx(x), fx(x)], [fy(8.5), 0], color='k', lw=1.5))

fig.text(fx(59.5), fy(37), 'Nữ', family=['Liberation Serif', 'DejaVu Serif'], fontweight='bold', fontsize=22.5, color='#0070C0')
fig.text(fx(59.5), fy(632), 'Nam', family=['Liberation Serif', 'DejaVu Serif'], fontweight='bold', fontsize=22, color='#0070C0')
fig.text(fx(679.5), fy(1229), 'Biểu đồ 1. Mối quan hệ giữa BMD và độ tuổi', ha='center', va='center',
         fontweight='bold', fontsize=17.3, color='#365F91')

fig.savefig('out.png', dpi=100)
